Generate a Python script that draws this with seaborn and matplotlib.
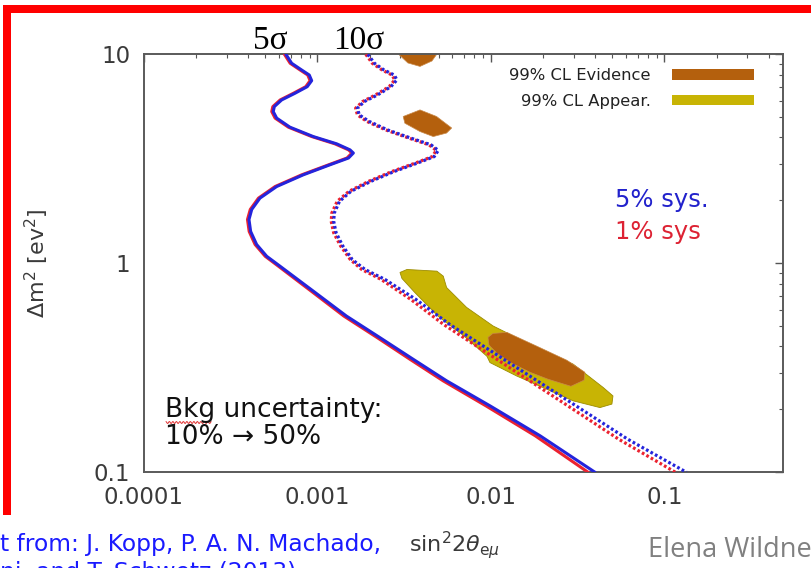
import numpy as np
import matplotlib
matplotlib.use("Agg")
import matplotlib.pyplot as plt
from matplotlib.patches import Patch, Rectangle
from matplotlib.lines import Line2D
import seaborn as sns

# ---------------------------------------------------------------
# Discovery contours in the (sin^2 2theta_emu, Delta m^2) plane
# ---------------------------------------------------------------
# 5 sigma contour
dm2_5sig = [10.0, 9.06, 8.41, 7.96, 7.48, 7.00, 6.51, 6.05, 5.62, 5.32, 4.95,
            4.48, 4.04, 3.73, 3.49, 3.37, 3.19, 2.96, 2.65, 2.33, 2.05, 1.81,
            1.62, 1.42, 1.23, 1.08, 0.969, 0.736, 0.559, 0.441, 0.347, 0.274,
            0.208, 0.1495, 0.1]
s2t_5sig_sys5 = [6.58e-4, 7.10e-4, 8.11e-4, 8.97e-4, 9.26e-4, 8.73e-4, 7.42e-4,
                 6.22e-4, 5.64e-4, 5.56e-4, 5.82e-4, 6.94e-4, 9.46e-4, 1.29e-3,
                 1.54e-3, 1.61e-3, 1.51e-3, 1.18e-3, 8.28e-4, 5.82e-4, 4.66e-4,
                 4.18e-4, 4.03e-4, 4.12e-4, 4.46e-4, 5.10e-4, 6.08e-4, 9.46e-4,
                 1.47e-3, 2.29e-3, 3.57e-3, 5.55e-3, 9.87e-3, 0.0192, 0.0398]
s2t_5sig_sys1 = [6.45e-4, 6.96e-4, 7.95e-4, 8.79e-4, 9.07e-4, 8.56e-4, 7.27e-4,
                 6.10e-4, 5.53e-4, 5.45e-4, 5.70e-4, 6.80e-4, 9.27e-4, 1.26e-3,
                 1.51e-3, 1.58e-3, 1.48e-3, 1.16e-3, 8.11e-4, 5.70e-4, 4.57e-4,
                 4.10e-4, 3.95e-4, 4.04e-4, 4.37e-4, 5.00e-4, 5.95e-4, 9.20e-4,
                 1.42e-3, 2.21e-3, 3.42e-3, 5.30e-3, 9.35e-3, 0.0180, 0.0363]

# 10 sigma contour
dm2_10sig = [10.0, 9.06, 8.41, 7.96, 7.54, 7.00, 6.39, 5.94, 5.52, 5.13, 4.77,
             4.35, 3.97, 3.69, 3.47, 3.24, 3.02, 2.75, 2.47, 2.21, 1.98, 1.74,
             1.59, 1.40, 1.21, 1.04, 0.934, 0.837, 0.672, 0.510, 0.374, 0.232,
             0.144, 0.1]
s2t_10sig_sys5 = [1.95e-3, 2.13e-3, 2.42e-3, 2.77e-3, 2.87e-3, 2.65e-3, 2.22e-3,
                  1.86e-3, 1.70e-3, 1.74e-3, 1.99e-3, 2.53e-3, 3.46e-3, 4.51e-3,
                  4.97e-3, 4.71e-3, 3.78e-3, 2.77e-3, 2.04e-3, 1.56e-3, 1.34e-3,
                  1.25e-3, 1.24e-3, 1.28e-3, 1.40e-3, 1.59e-3, 1.88e-3, 2.45e-3,
                  3.69e-3, 5.78e-3, 1.033e-2, 0.0252, 0.0614, 0.134]
s2t_10sig_sys1 = [1.90e-3, 2.07e-3, 2.36e-3, 2.69e-3, 2.79e-3, 2.59e-3, 2.16e-3,
                  1.82e-3, 1.66e-3, 1.70e-3, 1.93e-3, 2.47e-3, 3.37e-3, 4.39e-3,
                  4.84e-3, 4.59e-3, 3.68e-3, 2.69e-3, 1.98e-3, 1.52e-3, 1.30e-3,
                  1.21e-3, 1.20e-3, 1.24e-3, 1.36e-3, 1.55e-3, 1.80e-3, 2.33e-3,
                  3.45e-3, 5.33e-3, 9.43e-3, 0.0227, 0.0545, 0.1158]

# 99% CL regions: appearance (global fit) and "evidence" islands
appear_s2t = [2.99e-3, 3.28e-3, 4.88e-3, 5.31e-3, 5.55e-3, 7.24e-3, 0.0103,
              0.01469, 0.0219, 0.0298, 0.0444, 0.0505, 0.0498, 0.0425, 0.0298,
              0.0209, 0.01406, 9.87e-3, 9.48e-3, 6.99e-3, 4.95e-3, 3.65e-3,
              3.07e-3]
appear_dm2 = [0.904, 0.934, 0.917, 0.868, 0.766, 0.615, 0.501, 0.433, 0.371,
              0.329, 0.2544, 0.232, 0.212, 0.204, 0.2197, 0.250, 0.289, 0.335,
              0.359, 0.449, 0.559, 0.723, 0.846]

evid_low_s2t = [9.61e-3, 0.01027, 0.01237, 0.01841, 0.0274, 0.0348, 0.0344,
                0.0289, 0.0213, 0.0168, 0.01287, 0.01083, 9.74e-3]
evid_low_dm2 = [0.442, 0.462, 0.467, 0.401, 0.3436, 0.301, 0.276, 0.258, 0.279,
                0.301, 0.336, 0.371, 0.406]

evid_mid_s2t = [3.12e-3, 3.90e-3, 4.86e-3, 5.94e-3, 5.55e-3, 4.65e-3, 3.90e-3,
                3.19e-3]
evid_mid_dm2 = [5.04, 5.42, 5.04, 4.44, 4.20, 4.04, 4.27, 4.68]

evid_top_s2t = [2.76e-3, 5.08e-3, 4.57e-3, 3.90e-3, 3.32e-3]
evid_top_dm2 = [10.5, 10.5, 9.29, 8.75, 9.09]

x_ticks = [1e-4, 1e-3, 1e-2, 1e-1]
x_tick_labels = ["0.0001", "0.001", "0.01", "0.1"]
y_ticks = [0.1, 1, 10]
y_tick_labels = ["0.1", "1", "10"]
x_range = (1e-4, 0.484)
y_range = (0.1, 10)

BLUE = "#2424dc"
RED = "#eb2230"
BROWN = "#b4600d"
YELLOW = "#c8b404"

sns.set_theme(style="white")
plt.rcParams["font.family"] = ["DejaVu Sans"]

fig = plt.figure(figsize=(8.12, 5.68), dpi=100)
ax = fig.add_axes([0.1773, 0.1685, 0.7873, 0.7359])
ax.set_xscale("log")
ax.set_yscale("log")

# allowed regions
ax.fill(appear_s2t, appear_dm2, facecolor=YELLOW, edgecolor="#9c8c00",
        linewidth=0.6, zorder=1)
for xs, ys in [(evid_low_s2t, evid_low_dm2), (evid_mid_s2t, evid_mid_dm2),
               (evid_top_s2t, evid_top_dm2)]:
    ax.fill(xs, ys, facecolor=BROWN, edgecolor="#c98a4a", linewidth=0.5,
            zorder=2)

# contours: red = 1% systematics, blue = 5% systematics
line_kw = dict(sort=False, estimator=None, ax=ax, legend=False)
sns.lineplot(x=s2t_5sig_sys1, y=dm2_5sig, color=RED, linewidth=2.2,
             solid_joinstyle="round", zorder=3, **line_kw)
sns.lineplot(x=s2t_5sig_sys5, y=dm2_5sig, color=BLUE, linewidth=2.2,
             solid_joinstyle="round", zorder=4, **line_kw)
dots = (0, (0.85, 0.75))
sns.lineplot(x=s2t_10sig_sys1, y=dm2_10sig, color=RED, linewidth=2.3,
             linestyle=dots, dash_capstyle="butt", zorder=3, **line_kw)
sns.lineplot(x=s2t_10sig_sys5, y=dm2_10sig, color=BLUE, linewidth=2.3,
             linestyle=dots, dash_capstyle="butt", zorder=4, **line_kw)

ax.set_xlim(*x_range)
ax.set_ylim(*y_range)
ax.set_xticks(x_ticks)
ax.set_xticklabels(x_tick_labels)
ax.set_yticks(y_ticks)
ax.set_yticklabels(y_tick_labels)
ax.tick_params(which="both", direction="in", top=True, right=True,
               color="#555555")
ax.tick_params(which="major", length=6, width=1.0, labelsize=16.5,
               labelcolor="#3a3a3a", pad=10)
ax.tick_params(which="minor", length=3, width=0.8)
for sp in ax.spines.values():
    sp.set_color("#5a5a5a")
    sp.set_linewidth(1.4)

ax.set_xlabel(r"sin$^2$2$\theta_{\mathrm{e}\mu}$", fontsize=16, color="#3a3a3a")
ax.xaxis.set_label_coords(0.4865, -0.135)
ax.set_ylabel(r"$\Delta$m$^2$ [ev$^2$]", fontsize=16, color="#3a3a3a")
ax.yaxis.set_label_coords(-0.146, 0.5)

# legend for the regions, text left of the swatch
handles = [Patch(facecolor=BROWN, edgecolor="none", label="99% CL Evidence"),
           Patch(facecolor=YELLOW, edgecolor="none", label="99% CL Appear.")]
ax.legend(handles=handles, loc="upper right", markerfirst=False,
          frameon=False, fontsize=11.8, handlelength=5.0, handleheight=0.62,
          handletextpad=1.3, labelspacing=0.65, borderpad=0,
          borderaxespad=0, bbox_to_anchor=(754 / 812, 1 - 68 / 568),
          bbox_transform=fig.transFigure, labelcolor="#222222")

# annotations
fig.text(270 / 812, 1 - 41 / 568, "5\u03c3", ha="center", va="center",
         fontsize=24, family="Liberation Serif", color="black")
fig.text(359 / 812, 1 - 41 / 568, "10\u03c3", ha="center", va="center",
         fontsize=24, family="Liberation Serif", color="black")
fig.text(615 / 812, 1 - 200 / 568, "5% sys.", ha="left", va="center",
         fontsize=17.5, color="#2222cc")
fig.text(615 / 812, 1 - 232 / 568, "1% sys", ha="left", va="center",
         fontsize=17.5, color="#dd2233")
bkg_x, bkg_y = 165 / 812, 1 - 410 / 568
fig.text(bkg_x, bkg_y, "Bkg uncertainty:", ha="left", va="center",
         fontsize=19, color="#111111")
fig.text(bkg_x, 1 - 437 / 568, "10% \u2192 50%", ha="left", va="center",
         fontsize=19, color="#111111")

# spell-check squiggle under the word "Bkg"
renderer = fig.canvas.get_renderer()
probe = fig.text(bkg_x, bkg_y, "Bkg", ha="left", va="center", fontsize=19)
bb = probe.get_window_extent(renderer)
probe.remove()
sx = np.linspace(bb.x0 + 1, bb.x1 - 4, 80)
sy = bb.y0 + 0.5 + 1.0 * np.sin((sx - bb.x0) / 3.5 * 2 * np.pi)
fig.lines.append(Line2D(sx / fig.bbox.width, sy / fig.bbox.height,
                        transform=fig.transFigure, color="#e03030",
                        linewidth=0.7))

# slide decorations
fig.text(0.0, 1 - 545 / 568, "t from: J. Kopp, P. A. N. Machado,", ha="left",
         va="center", fontsize=16.8, color="#1a1aff")
fig.text(0.0, 1 - 573 / 568, "ni, and T. Schwetz (2013)", ha="left",
         va="center", fontsize=16.8, color="#1a1aff")
fig.text(648 / 812, 1 - 550 / 568, "Elena Wildner", ha="left", va="center",
         fontsize=19.5, family="Open Sans", color="#808080")
fig.patches.append(Rectangle((3 / 812, 1 - 12.5 / 568), 1.0, 7.5 / 568,
                             transform=fig.transFigure, facecolor="#ff0000",
                             edgecolor="none"))
fig.patches.append(Rectangle((3 / 812, 1 - 515 / 568), 7.5 / 812, 510 / 568,
                             transform=fig.transFigure, facecolor="#ff0000",
                             edgecolor="none"))

fig.savefig("out.png", dpi=100, facecolor="white")
